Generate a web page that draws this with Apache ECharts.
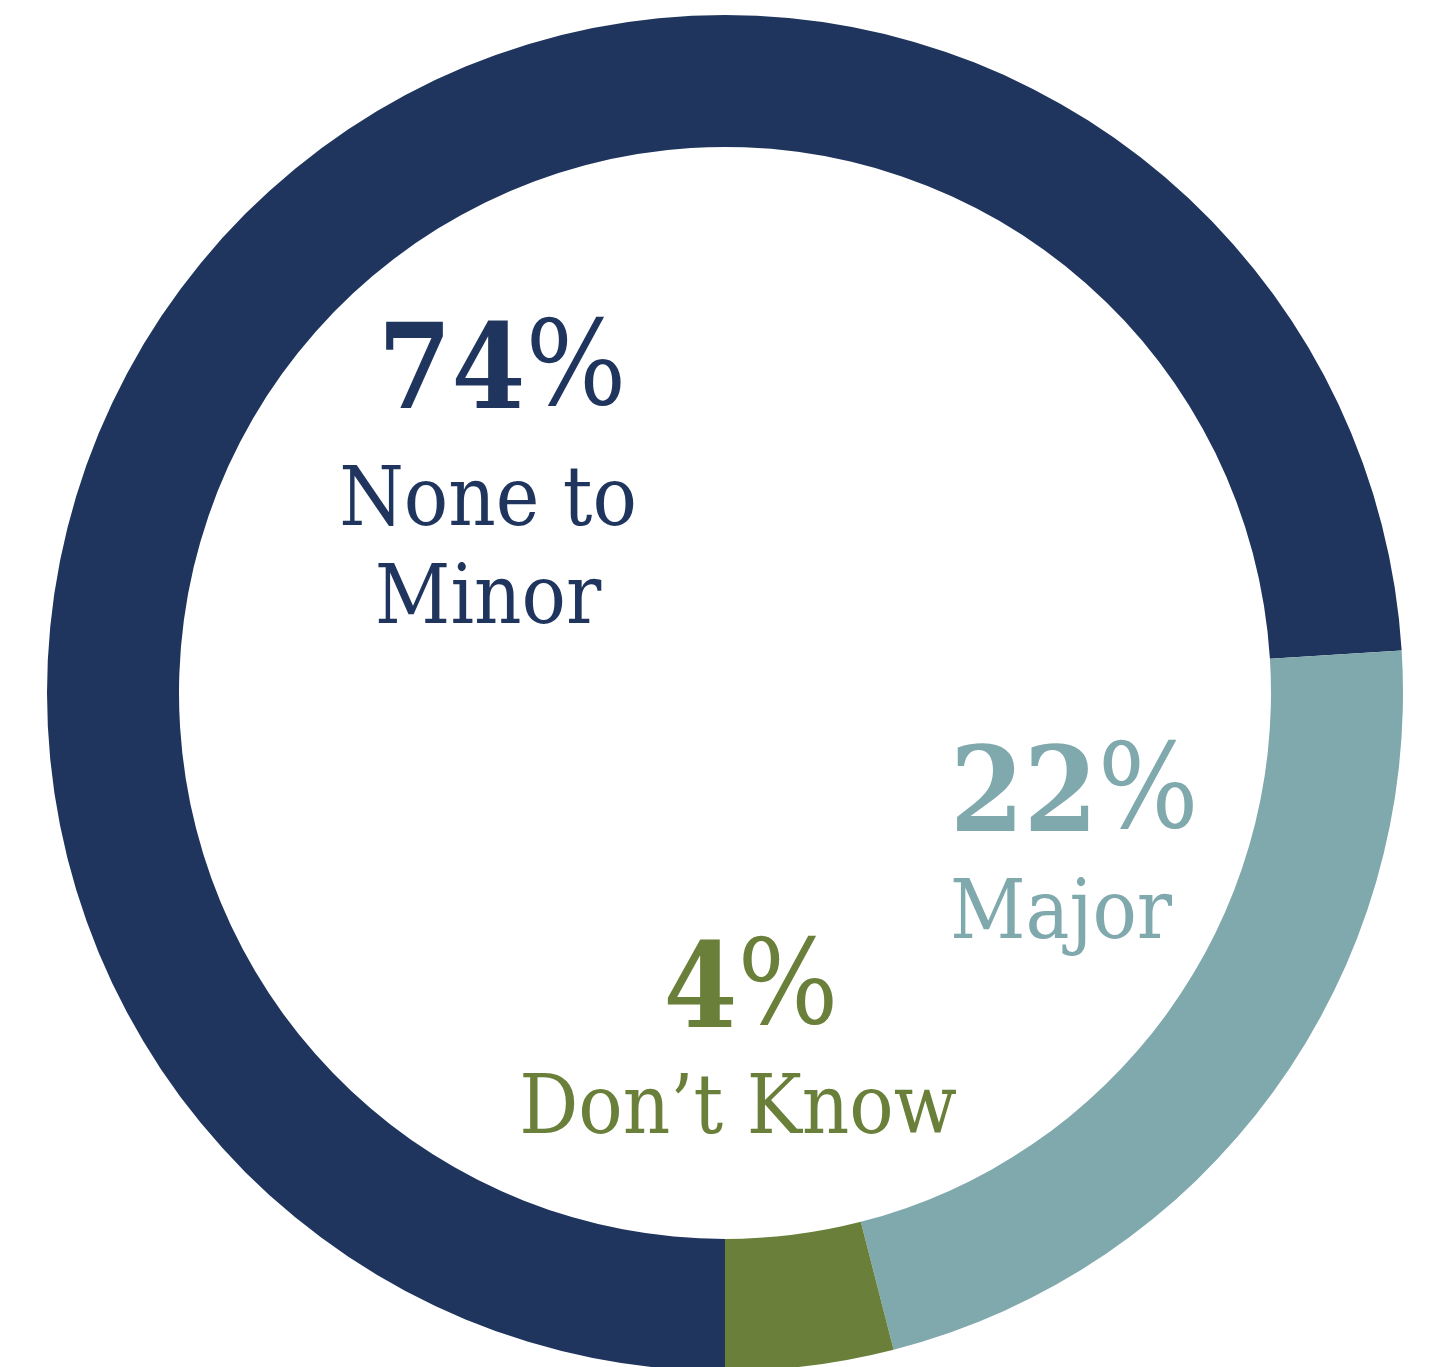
<!DOCTYPE html>
<html><head><meta charset="utf-8">
<script src="https://cdn.jsdelivr.net/npm/echarts@6/dist/echarts.min.js"></script>
<style>html,body{margin:0;padding:0;background:#fff}#c{width:1435px;height:1367px}</style>
</head><body><div id="c"></div>
<script>
// Data
const categories = ['None to\nMinor', 'Major', 'Don\u2019t Know'];
const values = [74, 22, 4];
const colors = ['#1F355E', '#80A9AD', '#6A803A'];

// Label placement (layout only)
const labelPos = [
  { x: 488, y: 291, align: 'center', firstLine: 164, shift: 28 },
  { x: 950, y: 724, align: 'left', firstLine: 144, shift: 0 },
  { x: 738, y: 921, align: 'center', firstLine: 142, shift: 26 }
];
const FONT = '"DejaVu Serif Condensed", "DejaVu Serif", serif';

const chart = echarts.init(document.getElementById('c'), null, { renderer: 'canvas' });

const seriesData = categories.map((name, i) => ({
  name: name,
  value: values[i],
  itemStyle: { color: colors[i] },
  label: {
    color: colors[i],
    align: labelPos[i].align,
    formatter: (p) => '{num|' + p.value + '}{pct|%}\n' +
      p.name.split('\n').map(s => '{name|' + s + '}').join('\n'),
    rich: {
      num: { fontFamily: FONT, fontWeight: 'bold', fontSize: 118, color: colors[i],
             lineHeight: labelPos[i].firstLine, padding: [8, 0, 0, labelPos[i].shift] },
      pct: { fontFamily: FONT, fontWeight: 'normal', fontSize: 118, color: colors[i],
             lineHeight: labelPos[i].firstLine },
      name: { fontFamily: FONT, fontSize: 82, color: colors[i], lineHeight: 98 }
    }
  }
}));

chart.setOption({
  backgroundColor: '#ffffff',
  animation: false,
  series: [{
    type: 'pie',
    center: [725, 693],
    radius: [546, 678],
    startAngle: 270,
    clockwise: true,
    avoidLabelOverlap: false,
    silent: true,
    itemStyle: { borderWidth: 0 },
    label: { show: true, position: 'outside' },
    labelLine: { show: false },
    labelLayout: function (params) {
      const p = labelPos[params.dataIndex];
      return { x: p.x, y: p.y, align: p.align, verticalAlign: 'top' };
    },
    data: seriesData
  }]
});
</script>
</body></html>
